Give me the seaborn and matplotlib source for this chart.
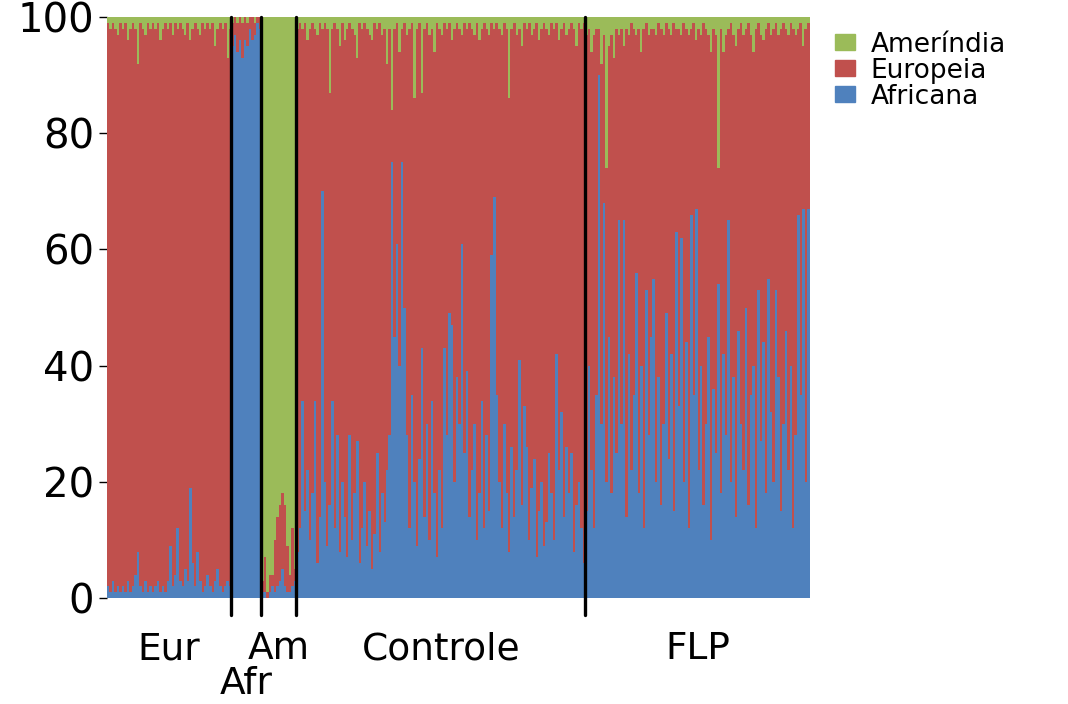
import numpy as np
import pandas as pd
import seaborn as sns
import matplotlib.pyplot as plt
from matplotlib.patches import Patch

# ancestry proportions (%) per individual
# Europeia = 100 - Africana - Amerindia
groups = ['Eur', 'Afr', 'Am', 'Controle', 'FLP']

eur_afr = [2, 1, 3, 1, 2, 1, 2, 1, 3, 1, 2, 4, 8, 2, 1, 3, 1, 2, 1, 2, 3, 1, 2, 1, 3,
           9, 2, 4, 12, 3, 2, 5, 3, 19, 6, 2, 8, 3, 1, 2, 4, 2, 1, 3, 5, 2, 1, 2, 3, 2]
eur_am = [1, 2, 1, 2, 3, 1, 2, 1, 4, 2, 1, 2, 8, 1, 2, 3, 1, 2, 1, 2, 1, 4, 2, 1, 2,
          1, 3, 1, 2, 1, 2, 3, 1, 4, 2, 1, 2, 3, 1, 2, 1, 2, 1, 5, 2, 1, 2, 1, 7, 2]

afr_afr = [95, 97, 94, 96, 93, 96, 95, 98, 96, 97, 99, 98]
afr_am = [1, 0, 1, 0, 1, 0, 1, 0, 0, 1, 0, 0]

am_afr = [1, 1, 0, 1, 2, 1, 2, 3, 5, 2, 1, 1, 2, 3]
am_am = [97, 93, 99, 96, 96, 90, 86, 84, 82, 84, 91, 96, 88, 95]

ctl_afr = [8, 12, 34, 15, 22, 10, 18, 34, 6, 14, 70, 20, 9, 16, 34, 12, 28, 8, 20, 14,
           7, 28, 10, 18, 27, 6, 12, 20, 9, 15, 5, 11, 25, 8, 18, 13, 22, 28, 75, 45,
           61, 40, 75, 50, 28, 12, 35, 20, 9, 24, 43, 14, 30, 10, 34, 18, 7, 22, 12, 43,
           28, 49, 47, 20, 38, 30, 61, 25, 39, 14, 22, 30, 10, 18, 34, 12, 28, 15, 59, 69,
           35, 20, 12, 30, 18, 8, 26, 14, 22, 41, 16, 33, 26, 10, 19, 24, 7, 15, 20, 9,
           13, 25, 18, 10, 42, 22, 32, 14, 26, 18, 25, 8, 16, 20, 12, 6]
ctl_am = [2, 1, 2, 1, 4, 2, 1, 2, 3, 1, 2, 1, 2, 13, 2, 1, 2, 5, 1, 4,
          2, 1, 2, 3, 7, 1, 2, 1, 2, 3, 4, 1, 2, 1, 3, 2, 8, 2, 16, 2,
          1, 6, 2, 1, 3, 2, 1, 14, 2, 1, 13, 2, 1, 3, 2, 6, 1, 2, 3, 1,
          2, 1, 4, 2, 1, 2, 3, 1, 2, 1, 2, 3, 1, 4, 2, 1, 2, 3, 1, 2,
          1, 2, 3, 1, 2, 14, 2, 1, 3, 2, 5, 1, 2, 1, 3, 2, 1, 4, 2, 1,
          2, 3, 1, 2, 1, 4, 2, 1, 3, 2, 1, 2, 5, 1, 2, 1]

flp_afr = [15, 40, 22, 12, 35, 90, 30, 68, 20, 45, 18, 38, 25, 65, 30, 65, 14, 42, 22, 35,
           56, 18, 40, 12, 53, 28, 45, 55, 20, 38, 16, 30, 49, 24, 42, 15, 63, 33, 62, 20,
           44, 12, 66, 35, 67, 22, 40, 16, 30, 45, 10, 36, 25, 54, 18, 42, 28, 65, 20, 38,
           14, 46, 30, 22, 50, 16, 35, 40, 12, 53, 27, 44, 18, 55, 32, 20, 53, 38, 15, 30,
           46, 22, 40, 12, 28, 66, 35, 67, 20, 67]
flp_am = [3, 2, 6, 3, 2, 2, 8, 3, 26, 5, 3, 7, 2, 3, 2, 5, 2, 3, 1, 2,
          3, 2, 6, 2, 1, 3, 2, 2, 3, 1, 2, 3, 1, 2, 3, 1, 2, 2, 3, 1,
          2, 3, 2, 1, 4, 2, 3, 1, 2, 3, 6, 2, 3, 26, 2, 6, 3, 2, 1, 3,
          5, 2, 1, 3, 2, 1, 3, 6, 2, 1, 3, 4, 2, 1, 3, 2, 1, 3, 2, 1,
          2, 3, 1, 2, 3, 2, 1, 5, 2, 1]

afr_all = eur_afr + afr_afr + am_afr + ctl_afr + flp_afr
am_all = eur_am + afr_am + am_am + ctl_am + flp_am
sizes = [len(eur_afr), len(afr_afr), len(am_afr), len(ctl_afr), len(flp_afr)]

df = pd.DataFrame({'ind': np.arange(len(afr_all)),
                   'Africana': afr_all, 'Amerindia': am_all})
df['Europeia'] = 100 - df['Africana'] - df['Amerindia']
df['top_red'] = df['Africana'] + df['Europeia']
df['top_green'] = df['top_red'] + df['Amerindia']

c_green = '#9BBB59'
c_red = '#C0504D'
c_blue = '#4F81BD'

sns.set_theme(style='ticks')
plt.rcParams['font.family'] = ['DejaVu Sans']
plt.rcParams['text.color'] = 'black'

fig = plt.figure(figsize=(10.68, 7.04), dpi=100)
ax = fig.add_axes([0.1, 0.1506, 0.658, 0.825])

# slightly over-wide bars so no white seams show between neighbours
kw = dict(x='ind', width=1.08, linewidth=0, saturation=1, errorbar=None, ax=ax)
sns.barplot(data=df, y='top_green', color=c_green, **kw)
sns.barplot(data=df, y='top_red', color=c_red, **kw)
sns.barplot(data=df, y='Africana', color=c_blue, **kw)

n = len(df)
ax.set_xlim(-0.5, n - 0.5)
ax.set_ylim(0, 100)
ax.set_xlabel('')
ax.set_ylabel('')
ax.set_xticks([])
ax.set_yticks([0, 20, 40, 60, 80, 100])
ax.tick_params(axis='y', labelsize=29, length=6, width=1, pad=3, colors='black')
sns.despine(ax=ax, left=True, bottom=True)

# group separators and labels
bounds = np.cumsum(sizes)
for b in bounds[:-1]:
    ax.axvline(b - 0.5, ymin=-0.03, ymax=1, color='black', lw=2.4, clip_on=False)

starts = np.concatenate([[0], bounds[:-1]])
for g, s, e in zip(groups, starts, bounds):
    mid = (s + e - 1) / 2
    yy = -0.148 if g == 'Afr' else -0.088
    ax.text(mid, yy, g, transform=ax.get_xaxis_transform(), ha='center', va='center',
            fontsize=27, color='black')

handles = [Patch(color=c_green), Patch(color=c_red), Patch(color=c_blue)]
leg = fig.legend(handles, ['Ameríndia', 'Europeia', 'Africana'], loc='upper left',
                 bbox_to_anchor=(0.782, 0.955), frameon=False, fontsize=19,
                 labelspacing=0.0, handlelength=0.75, handleheight=0.55,
                 handletextpad=0.6, borderpad=0, borderaxespad=0)
for t in leg.get_texts():
    t.set_color('black')

fig.savefig('out.png', dpi=100, facecolor='white')
